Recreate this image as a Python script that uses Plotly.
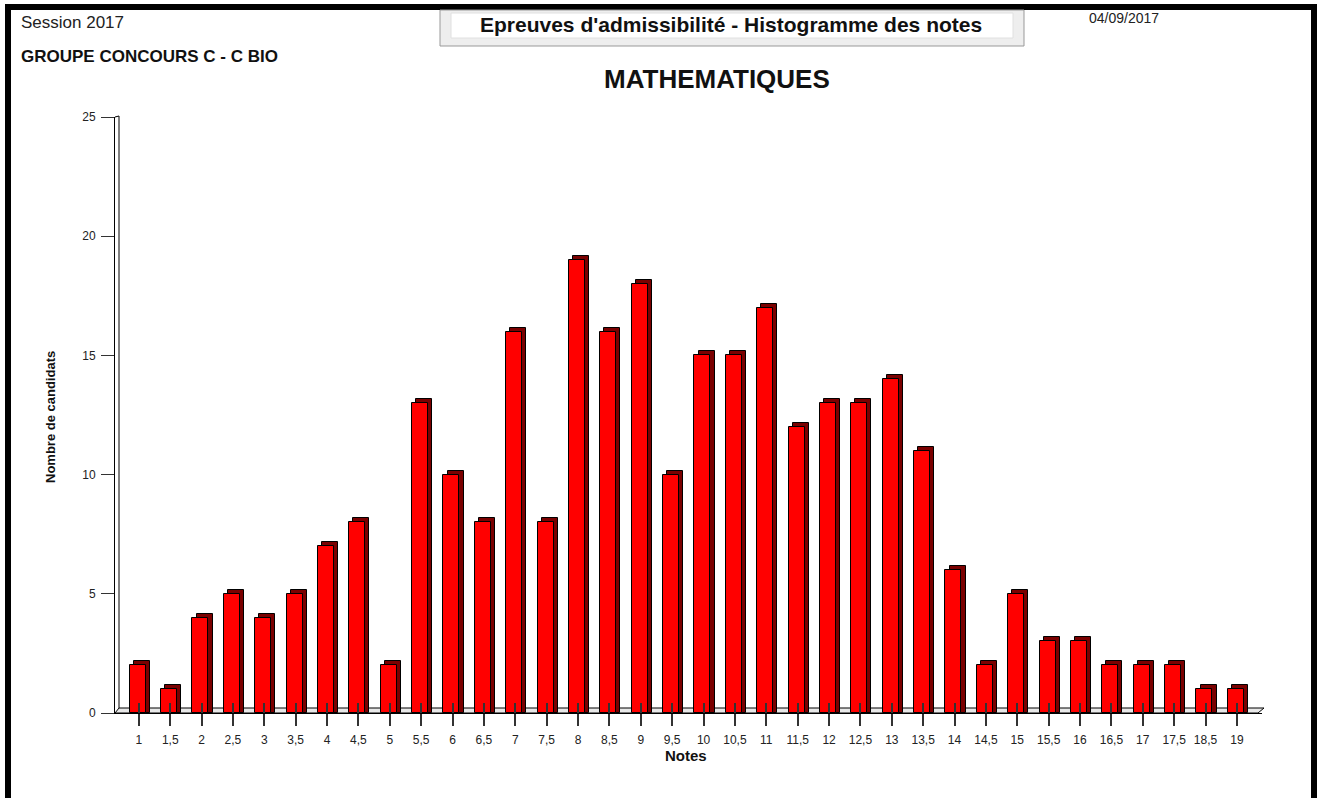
import plotly.graph_objects as go

notes = ["1", "1,5", "2", "2,5", "3", "3,5", "4", "4,5", "5", "5,5", "6", "6,5",
         "7", "7,5", "8", "8,5", "9", "9,5", "10", "10,5", "11", "11,5", "12", "12,5",
         "13", "13,5", "14", "14,5", "15", "15,5", "16", "16,5", "17", "17,5", "18,5", "19"]
candidats = [2, 1, 4, 5, 4, 5, 7, 8, 2, 13, 10, 8,
             16, 8, 19, 16, 18, 10, 15, 15, 17, 12, 13, 13,
             14, 11, 6, 2, 5, 3, 3, 2, 2, 2, 1, 1]
y_ticks = [0, 5, 10, 15, 20, 25]

W, H = 1319, 798
L, R, T, B = 115, 1262, 117, 713
FONT = "Arial, Liberation Sans, sans-serif"

def px(x):
    return (x - L) / (R - L)

def py(y):
    return (B - y) / (B - T)

pos = list(range(len(notes)))
depth_y = 0.17
x_range = [-0.76, 35.8]

fig = go.Figure()
# side/top (3D depth) of bars
fig.add_trace(go.Bar(
    x=pos, y=[v + depth_y for v in candidats], offset=-0.16, width=0.51,
    marker=dict(color="#7a0000", line=dict(color="black", width=1)),
    hoverinfo="skip", showlegend=False))
# front faces
fig.add_trace(go.Bar(
    x=pos, y=candidats, offset=-0.29, width=0.51,
    marker=dict(color="#ff0000", line=dict(color="black", width=1)),
    showlegend=False))

shapes = []
# floor
shapes.append(dict(type="path", xref="paper", yref="paper",
                   path=f"M {px(115)} {py(713)} L {px(1258)} {py(713)} L {px(1264)} {py(708)} L {px(119)} {py(708)} Z",
                   fillcolor="#e8e8e8", line=dict(color="black", width=1), layer="below"))
# wall double line
shapes.append(dict(type="line", xref="paper", yref="paper",
                   x0=px(119), x1=px(119), y0=py(708), y1=py(116),
                   line=dict(color="black", width=1)))
shapes.append(dict(type="line", xref="paper", yref="paper",
                   x0=px(115), x1=px(119), y0=py(117), y1=py(116),
                   line=dict(color="black", width=1)))
# page border
shapes.append(dict(type="rect", xref="paper", yref="paper",
                   x0=px(5), x1=px(1317), y0=py(4), y1=py(10),
                   fillcolor="black", line=dict(width=0)))
shapes.append(dict(type="rect", xref="paper", yref="paper",
                   x0=px(5), x1=px(11), y0=py(4), y1=py(800),
                   fillcolor="black", line=dict(width=0)))
shapes.append(dict(type="rect", xref="paper", yref="paper",
                   x0=px(1311), x1=px(1317), y0=py(4), y1=py(800),
                   fillcolor="black", line=dict(width=0)))
# title box
shapes.append(dict(type="rect", xref="paper", yref="paper",
                   x0=px(440), x1=px(1024), y0=py(10), y1=py(46),
                   fillcolor="#eeeeee", line=dict(color="#999999", width=1)))
shapes.append(dict(type="rect", xref="paper", yref="paper",
                   x0=px(451), x1=px(1013), y0=py(13), y1=py(38),
                   fillcolor="white", line=dict(color="#e0e0e0", width=1)))

annotations = [
    dict(text="Session 2017", x=px(19), y=py(22), xanchor="left", yanchor="middle",
         font=dict(size=17, color="#222", family=FONT)),
    dict(text="<b>GROUPE CONCOURS C - C BIO</b>", x=px(19), y=py(56), xanchor="left", yanchor="middle",
         font=dict(size=17, color="#111", family=FONT)),
    dict(text="<b>Epreuves d'admissibilité - Histogramme des notes</b>", x=px(731), y=py(24),
         xanchor="center", yanchor="middle", font=dict(size=21, color="#111", family=FONT)),
    dict(text="04/09/2017", x=px(1087), y=py(18), xanchor="left", yanchor="middle",
         font=dict(size=14, color="#222", family=FONT)),
    dict(text="<b>MATHEMATIQUES</b>", x=px(717), y=py(79), xanchor="center", yanchor="middle",
         font=dict(size=26, color="#111", family=FONT)),
    dict(text="<b>Nombre de candidats</b>", x=px(50), y=py(417), xanchor="center", yanchor="middle",
         textangle=-90, font=dict(size=13, color="#111", family=FONT)),
    dict(text="<b>Notes</b>", x=px(686), y=py(755), xanchor="center", yanchor="middle",
         font=dict(size=15, color="#111", family=FONT)),
]
for a in annotations:
    a.update(xref="paper", yref="paper", showarrow=False)

fig.update_layout(
    width=W, height=H, autosize=False,
    margin=dict(l=L, r=W - R, t=T, b=H - B, pad=0),
    paper_bgcolor="white", plot_bgcolor="white",
    barmode="overlay", bargap=0,
    shapes=shapes, annotations=annotations,
    font=dict(family=FONT, size=12, color="#222"),
    xaxis=dict(range=x_range, tickmode="array", tickvals=pos, ticktext=notes,
               ticks="outside", ticklen=12, tickcolor="#333", tickwidth=2, ticklabelstandoff=4,
               showgrid=False, zeroline=False, showline=True, linecolor="black", linewidth=1,
               tickfont=dict(size=12, color="#222", family=FONT), fixedrange=True),
    xaxis2=dict(range=x_range, overlaying="x", anchor="y", side="bottom",
                tickmode="array", tickvals=pos, showticklabels=False,
                ticks="inside", ticklen=10, tickcolor="#333", tickwidth=2,
                showgrid=False, zeroline=False, showline=False, layer="above traces"),
    yaxis=dict(range=[0, 25], tickvals=y_ticks, ticks="outside", ticklen=13, tickcolor="#333",
               showgrid=False, zeroline=False, showline=True, linecolor="black", linewidth=1,
               ticklabelstandoff=3,
               tickfont=dict(size=12, color="#222", family=FONT), fixedrange=True),
)
# invisible trace to activate xaxis2
fig.add_trace(go.Scatter(x=[0], y=[0], xaxis="x2", mode="markers",
                         marker=dict(opacity=0), hoverinfo="skip", showlegend=False))

fig.write_html("out.html", config={"displayModeBar": False},
               post_script="document.body.style.margin='0';document.body.style.overflow='hidden';")
